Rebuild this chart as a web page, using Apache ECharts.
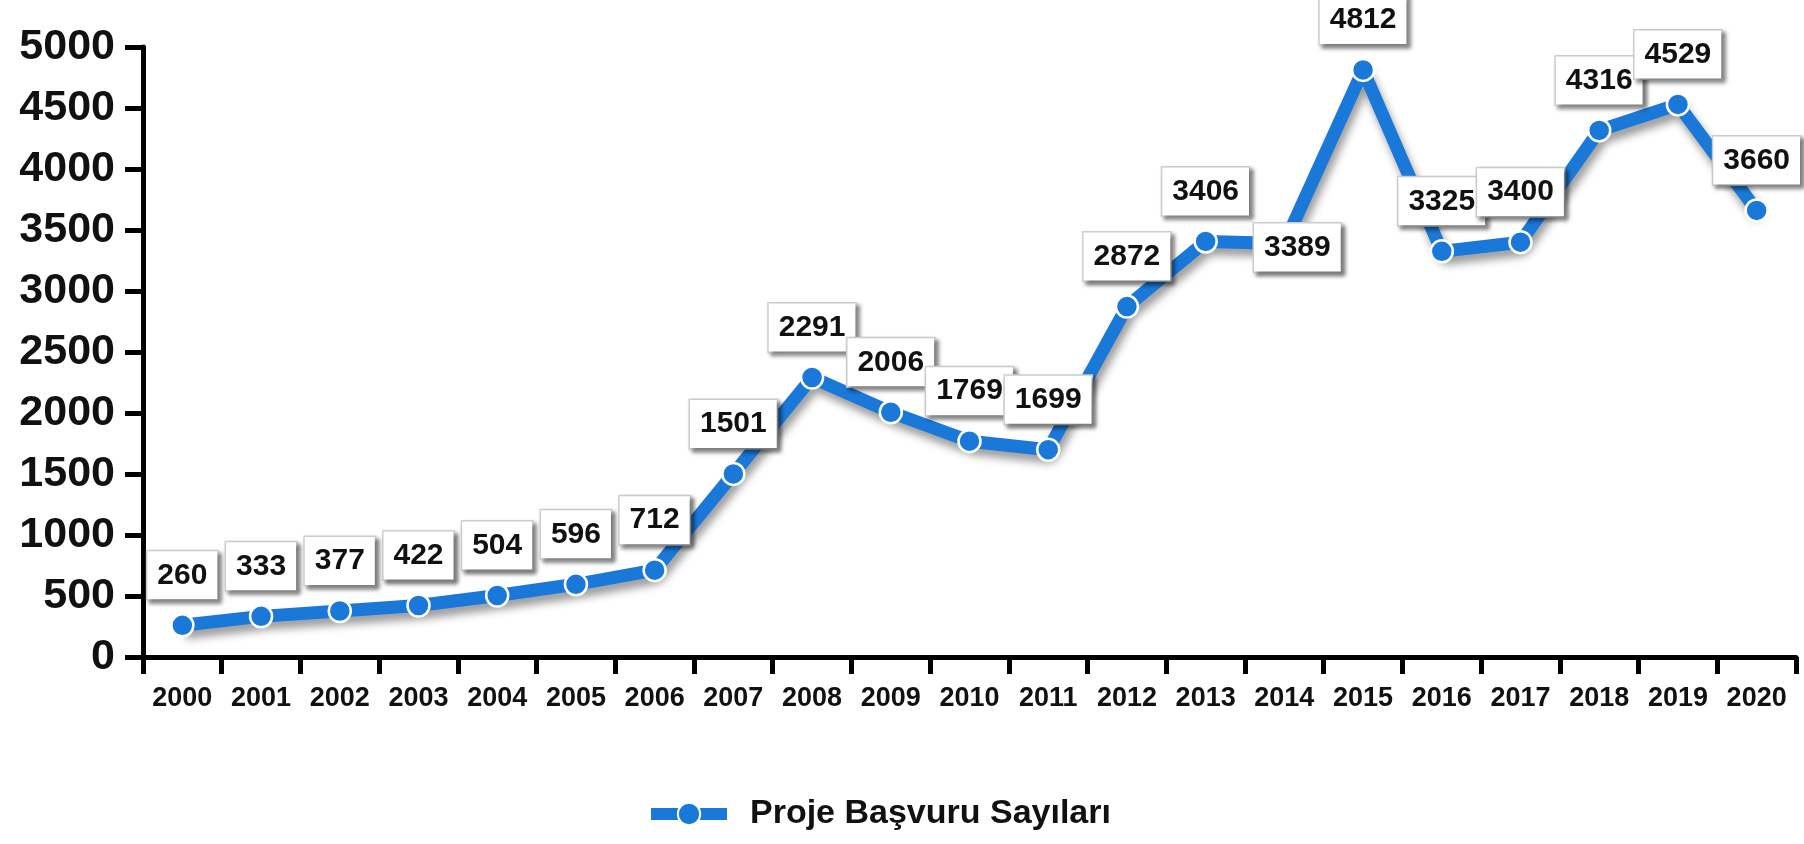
<!DOCTYPE html>
<html>
<head>
<meta charset="utf-8">
<script src="https://cdn.jsdelivr.net/npm/echarts@6/dist/echarts.min.js"></script>
<style>
  html, body { margin: 0; padding: 0; background: #fff; }
  #chart { width: 1804px; height: 844px; }
</style>
</head>
<body>
<div id="chart"></div>
<script>
const years = ["2000", "2001", "2002", "2003", "2004", "2005", "2006", "2007", "2008", "2009", "2010",
  "2011", "2012", "2013", "2014", "2015", "2016", "2017", "2018", "2019", "2020"];
const applications = [260, 333, 377, 422, 504, 596, 712, 1501, 2291, 2006, 1769,
  1699, 2872, 3406, 3389, 4812, 3325, 3400, 4316, 4529, 3660];
const seriesName = "Proje Başvuru Sayıları";
const yTicks = [0, 500, 1000, 1500, 2000, 2500, 3000, 3500, 4000, 4500, 5000];

// labels sit ~50px above their point; 2014's sits over it
const labelShift = { 14: [13, 4] };

const font = "'Liberation Sans', Arial, sans-serif";
const blue = "#1a78d8";

const chart = echarts.init(document.getElementById("chart"));

chart.setOption({
  animation: false,
  textStyle: { fontFamily: font },
  grid: { left: 143, right: 8, top: 47, bottom: 187 },
  legend: {
    left: 640,
    top: 792,
    itemWidth: 76,
    itemHeight: 28,
    lineStyle: { width: 12, color: blue },
    textStyle: { fontSize: 34, fontWeight: "bold", color: "#111", fontFamily: font, padding: [0, 0, 0, 18] },
    data: [seriesName]
  },
  xAxis: {
    type: "category",
    data: years,
    boundaryGap: true,
    axisLine: { lineStyle: { color: "#000", width: 5 } },
    axisTick: { show: true, length: 17, lineStyle: { color: "#000", width: 5 } },
    axisLabel: { interval: 0, margin: 28, fontSize: 27, fontWeight: "bold", color: "#111", fontFamily: font }
  },
  yAxis: {
    type: "value",
    min: yTicks[0],
    max: yTicks[yTicks.length - 1],
    interval: 500,
    splitLine: { show: false },
    axisLine: { show: true, lineStyle: { color: "#000", width: 5 } },
    axisTick: { show: true, length: 18, lineStyle: { color: "#000", width: 5 } },
    axisLabel: {
      margin: 28, fontSize: 43, fontWeight: "bold", color: "#111", fontFamily: font,
      formatter: (v) => String(v)
    }
  },
  series: [{
    name: seriesName,
    type: "line",
    data: applications,
    symbol: "circle",
    symbolSize: 22,
    itemStyle: { color: blue, borderColor: "#fff", borderWidth: 2.5 },
    lineStyle: {
      color: blue,
      width: 13,
      shadowColor: "rgba(0,0,0,0.4)",
      shadowBlur: 9,
      shadowOffsetX: 3,
      shadowOffsetY: 7
    },
    label: {
      show: true,
      position: "inside",
      fontSize: 30,
      fontWeight: "bold",
      color: "#111",
      fontFamily: font,
      backgroundColor: "#fff",
      borderColor: "#cfcfcf",
      borderWidth: 1.5,
      padding: [10, 10, 8, 10],
      shadowColor: "rgba(0,0,0,0.45)",
      shadowBlur: 4,
      shadowOffsetX: 3,
      shadowOffsetY: 3
    },
    labelLayout: (p) => {
      const s = labelShift[p.dataIndex] || [0, -50];
      return { dx: s[0], dy: s[1], hideOverlap: false };
    }
  }]
});
</script>
</body>
</html>
